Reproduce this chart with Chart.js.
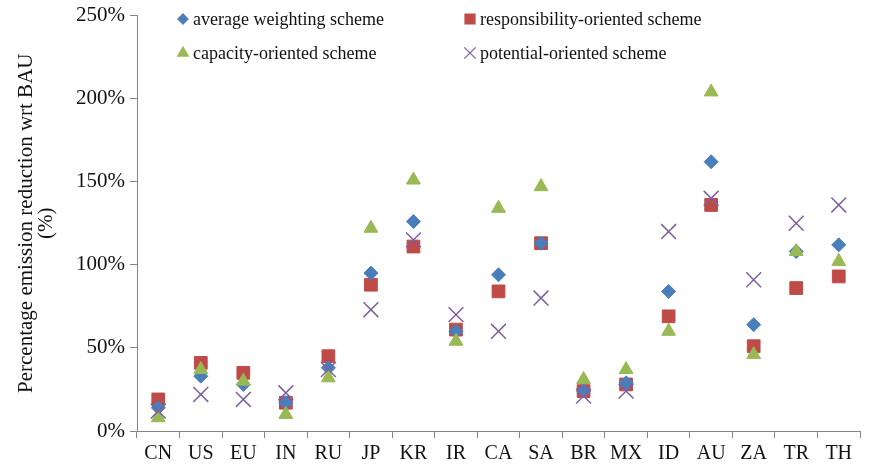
<!DOCTYPE html>
<html>
<head>
<meta charset="utf-8">
<script src="https://cdn.jsdelivr.net/npm/chart.js@4/dist/chart.umd.min.js"></script>
<style>
  html, body { margin: 0; padding: 0; background: #fff; }
  #wrap { width: 872px; height: 472px; position: relative; }
</style>
</head>
<body>
<div id="wrap"><canvas id="myChart" width="872" height="472"></canvas></div>
<script>
const countries = ["CN", "US", "EU", "IN", "RU", "JP", "KR", "IR", "CA", "SA", "BR", "MX", "ID", "AU", "ZA", "TR", "TH"];
const averageScheme = [14, 33, 28, 17, 38, 95, 126, 60, 94, 113, 24, 29, 84, 162, 64, 108, 112];
const responsibilityScheme = [19, 41, 35, 17, 45, 88, 111, 61, 84, 113, 24, 28, 69, 136, 51, 86, 93];
const capacityScheme = [8, 37, 30, 10, 32, 122, 151, 54, 134, 147, 31, 37, 60, 204, 46, 108, 102];
const potentialScheme = [12, 22, 19, 23, 37, 73, 115, 70, 60, 80, 21, 24, 120, 140, 91, 125, 136];
const yTicks = [0, 50, 100, 150, 200, 250];

const FONT = "'Liberation Serif', 'Times New Roman', serif";

// legend drawn by hand: 2 x 2 grid inside plot area
const legendItems = [
    { label: "average weighting scheme", style: "rectRot", color: "#4A7EBB", radius: 5, x: 183, y: 19 },
    { label: "responsibility-oriented scheme", style: "rect", color: "#BE4B48", radius: 7, x: 470, y: 19 },
    { label: "capacity-oriented scheme", style: "triangle", color: "#98B954", radius: 6, x: 183, y: 53 },
    { label: "potential-oriented scheme", style: "crossRot", color: "#7D60A0", radius: 8, x: 470, y: 53 }
];

const legendPlugin = {
    id: 'gridLegend',
    afterDraw(chart) {
        const ctx = chart.ctx;
        ctx.save();
        legendItems.forEach(item => {
            ctx.fillStyle = item.color;
            ctx.strokeStyle = item.color;
            ctx.lineWidth = 1.3;
            Chart.helpers.drawPoint(ctx, { pointStyle: item.style, radius: item.radius, rotation: 0, borderWidth: 1.3 }, item.x, item.y);
            ctx.fillStyle = "#111";
            ctx.font = "18px " + FONT;
            ctx.textBaseline = "middle";
            ctx.textAlign = "left";
            ctx.fillText(item.label, item.x + 10, item.y + 1);
        });
        ctx.restore();
    }
};

function makeSet(label, data, color, style, radius) {
    return {
        label: label,
        data: data,
        showLine: false,
        pointStyle: style,
        pointRadius: radius,
        pointHoverRadius: radius,
        backgroundColor: color,
        borderColor: color,
        pointBorderWidth: style === 'crossRot' ? 1.5 : 1
    };
}

let ctx = document.getElementById("myChart").getContext('2d');
let myChart = new Chart(ctx, {
    type: 'line',
    data: {
        labels: countries,
        datasets: [
            makeSet("potential-oriented scheme", potentialScheme, "#7D60A0", 'crossRot', 10.5),
            makeSet("capacity-oriented scheme", capacityScheme, "#98B954", 'triangle', 8),
            makeSet("average weighting scheme", averageScheme, "#4A7EBB", 'rectRot', 7),
            makeSet("responsibility-oriented scheme", responsibilityScheme, "#BE4B48", 'rect', 9)
        ]
    },
    options: {
        responsive: false,
        animation: false,
        layout: { padding: { top: 0, right: 0, left: 0, bottom: 0 } },
        plugins: {
            legend: { display: false },
            tooltip: { enabled: false }
        },
        scales: {
            x: {
                type: 'category',
                offset: true,
                afterFit: scale => { scale.height = 41; },
                grid: { offset: true, drawOnChartArea: false, drawTicks: true, tickLength: 7, color: "#868686" },
                border: { color: "#868686", width: 1 },
                ticks: { color: "#111", font: { family: FONT, size: 20 }, padding: 4, maxRotation: 0, autoSkip: false }
            },
            y: {
                min: 0,
                max: 250,
                afterBuildTicks: scale => { scale.ticks = yTicks.map(v => ({ value: v })); },
                afterFit: scale => { scale.width = 137; },
                grid: { drawOnChartArea: false, drawTicks: true, tickLength: 7, color: "#868686" },
                border: { color: "#868686", width: 1 },
                ticks: {
                    color: "#111",
                    font: { family: FONT, size: 21, lineHeight: 1.0 },
                    padding: 5,
                    callback: v => v + "%"
                },
                title: {
                    display: true,
                    text: ["Percentage emission reduction wrt BAU", "(%)"],
                    color: "#111",
                    font: { family: FONT, size: 21, lineHeight: 0.95 },
                    padding: { top: 17, bottom: 0 }
                }
            }
        }
    },
    plugins: [legendPlugin]
});
</script>
</body>
</html>
